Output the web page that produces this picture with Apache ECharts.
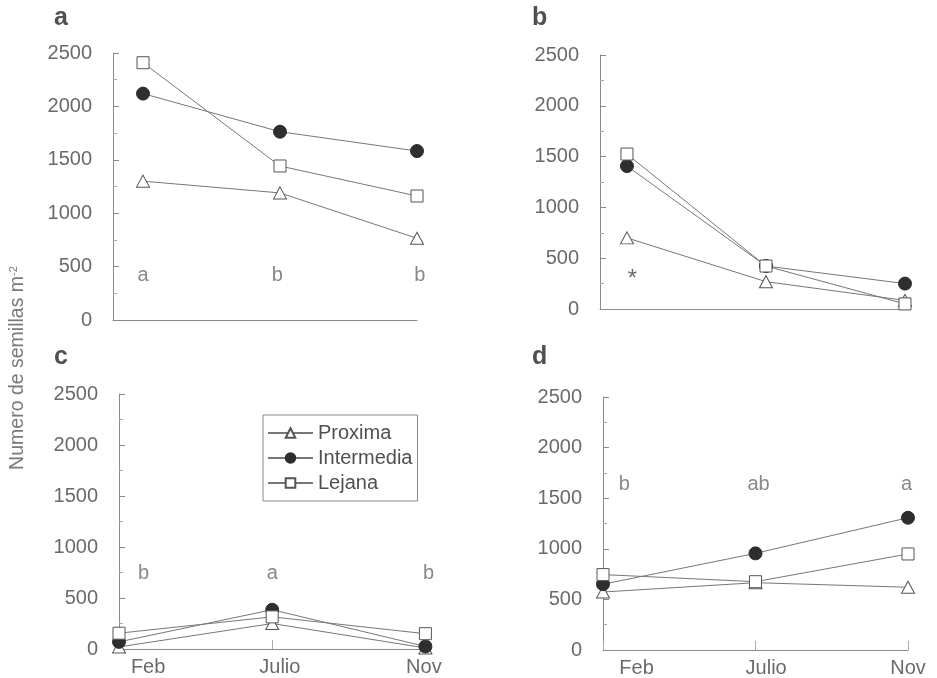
<!DOCTYPE html>
<html>
<head>
<meta charset="utf-8">
<script src="https://cdn.jsdelivr.net/npm/echarts@6/dist/echarts.min.js"></script>
<style>
  html, body { margin: 0; padding: 0; background: #fff; }
  #main { width: 937px; height: 678px; }
</style>
</head>
<body>
<div id="main"></div>
<script>
// data (seeds per m2)
var months = ['Feb', 'Julio', 'Nov'];
var seriesNames = ['Proxima', 'Intermedia', 'Lejana'];
var yTicks = [0, 500, 1000, 1500, 2000, 2500];

var proximaA = [1300, 1190, 765];
var intermediaA = [2120, 1763, 1582];
var lejanaA = [2409, 1442, 1161];

var proximaB = [700, 269, 85];
var intermediaB = [1407, 423, 250];
var lejanaB = [1525, 423, 50];

var proximaC = [20, 250, 10];
var intermediaC = [70, 385, 25];
var lejanaC = [155, 315, 150];

var proximaD = [573, 665, 620];
var intermediaD = [650, 955, 1307];
var lejanaD = [745, 675, 949];

// significance letters, with their x (month index) and y (value) places
var lettersA = ['a', 'b', 'b'];
var lettersB = ['*'];
var lettersC = ['b', 'a', 'b'];
var lettersD = ['b', 'ab', 'a'];
var letterXA = [0, 0.98, 2.02];
var letterXB = [0.04];
var letterXC = [0.16, 1.0, 2.02];
var letterXD = [0.14, 1.02, 1.99];
var letterYA = 420;
var letterYB = 290;
var letterYC = 745;
var letterYD = 1640;

var myChart = echarts.init(document.getElementById('main'));

var FONT = '"Liberation Sans", Arial, Helvetica, sans-serif';
var labelGray = '#6a6a6a';
var lineGray = '#777';
var axisGray = '#8a8a8a';

var grids = [
  { left: 113, top: 53, width: 304, height: 267 },
  { left: 600, top: 55, width: 310, height: 254 },
  { left: 119, top: 394, width: 311, height: 255 },
  { left: 603, top: 397, width: 305, height: 253 }
];

var xRanges = [
  { min: -0.219, max: 2 },
  { min: -0.194, max: 2.036 },
  { min: 0, max: 2.03 },
  { min: 0, max: 2.0 }
];
var monthLabelPos = [null, null, [0.19, 1.05, 1.99], [0.22, 1.07, 2.0]];

function makeX(i) {
  var showLabels = monthLabelPos[i] !== null;
  return {
    type: 'value',
    gridIndex: i,
    min: xRanges[i].min,
    max: xRanges[i].max,
    interval: 1,
    splitLine: { show: false },
    axisLine: { show: true, onZero: false, lineStyle: { color: axisGray, width: 1 } },
    axisTick: {
      show: showLabels,
      inside: true,
      length: 9,
      lineStyle: { color: '#aaa' },
      customValues: [0, 1, 2]
    },
    axisLabel: {
      show: showLabels,
      customValues: showLabels ? monthLabelPos[i] : undefined,
      margin: 8,
      fontSize: 20,
      fontFamily: FONT,
      color: labelGray,
      formatter: function (v) { return months[Math.round(v)]; }
    }
  };
}

function makeY(i) {
  return {
    type: 'value',
    gridIndex: i,
    min: 0,
    max: 2500,
    interval: 500,
    splitLine: { show: false },
    axisLine: { show: true, onZero: false, lineStyle: { color: axisGray, width: 1 } },
    axisTick: { show: true, inside: true, length: 6, lineStyle: { color: axisGray } },
    minorTick: { show: true, splitNumber: 2, length: 4, lineStyle: { color: '#aaa' } },
    axisLabel: {
      margin: 21,
      fontSize: 20,
      fontFamily: FONT,
      color: labelGray,
      formatter: function (v) { return yTicks.indexOf(v) >= 0 ? String(v) : ''; }
    }
  };
}

var symbolStyles = [
  { symbol: 'triangle', symbolSize: [13, 12], itemStyle: { color: '#fff', borderColor: '#555', borderWidth: 1 } },
  { symbol: 'circle', symbolSize: 13, itemStyle: { color: '#2e2e2e', borderColor: '#2e2e2e', borderWidth: 1 } },
  { symbol: 'rect', symbolSize: 12, itemStyle: { color: '#fff', borderColor: '#555', borderWidth: 1 } }
];

function toPoints(vals) {
  return vals.map(function (v, k) { return [k, v]; });
}

function lineSeries(name, vals, i, s) {
  var st = symbolStyles[s];
  return {
    name: name,
    type: 'line',
    xAxisIndex: i,
    yAxisIndex: i,
    data: toPoints(vals),
    symbol: st.symbol,
    symbolSize: st.symbolSize,
    showAllSymbol: true,
    clip: false,
    itemStyle: st.itemStyle,
    lineStyle: { color: lineGray, width: 1 },
    emphasis: { disabled: true },
    z: 3 + s
  };
}

function letterSeries(letters, xs, y, i, size, color) {
  return {
    type: 'scatter',
    xAxisIndex: i,
    yAxisIndex: i,
    symbol: 'circle',
    symbolSize: 1,
    itemStyle: { color: 'rgba(0,0,0,0)' },
    silent: true,
    clip: false,
    data: letters.map(function (t, k) { return { value: [xs[k], y], name: t }; }),
    label: {
      show: true,
      position: 'inside',
      formatter: function (p) { return p.name; },
      fontSize: size || 20,
      fontFamily: FONT,
      color: color || labelGray
    }
  };
}

var panels = [
  [proximaA, intermediaA, lejanaA],
  [proximaB, intermediaB, lejanaB],
  [proximaC, intermediaC, lejanaC],
  [proximaD, intermediaD, lejanaD]
];

var series = [];
panels.forEach(function (p, i) {
  p.forEach(function (vals, s) {
    series.push(lineSeries(seriesNames[s], vals, i, s));
  });
});
series.push(letterSeries(lettersA, letterXA, letterYA, 0));
series.push(letterSeries(lettersB, letterXB, letterYB, 1, 24, '#444'));
series.push(letterSeries(lettersC, letterXC, letterYC, 2));
series.push(letterSeries(lettersD, letterXD, letterYD, 3));

var titleStyle = { fontSize: 25, fontWeight: 'bold', fontFamily: FONT, fill: '#505050' };

option = {
  backgroundColor: '#fff',
  animation: false,
  grid: grids,
  xAxis: [0, 1, 2, 3].map(makeX),
  yAxis: [0, 1, 2, 3].map(makeY),
  legend: {
    data: seriesNames,
    orient: 'vertical',
    left: 263,
    top: 415,
    padding: [8, 5, 8, 4],
    itemGap: 5,
    itemWidth: 45,
    itemHeight: 12,
    borderColor: '#888',
    borderWidth: 1,
    selectedMode: false,
    textStyle: { fontSize: 20, fontFamily: FONT, color: '#505050' }
  },
  graphic: [
    { type: 'text', left: 54, top: 6, style: Object.assign({ text: 'a' }, titleStyle) },
    { type: 'text', left: 532, top: 6, style: Object.assign({ text: 'b' }, titleStyle) },
    { type: 'text', left: 54, top: 345, style: Object.assign({ text: 'c' }, titleStyle) },
    { type: 'text', left: 532, top: 345, style: Object.assign({ text: 'd' }, titleStyle) },
    {
      type: 'text',
      x: 18,
      y: 368,
      rotation: Math.PI / 2,
      style: {
        text: '{n|Numero de semillas m}{s|-2}',
        rich: {
          n: { fontSize: 19.5, fontFamily: FONT, fill: '#7a7a7a', color: '#7a7a7a' },
          s: { fontSize: 11, fontFamily: FONT, fill: '#7a7a7a', color: '#7a7a7a', verticalAlign: 'top', padding: [0, 0, 8, 0] }
        },
        align: 'center',
        verticalAlign: 'middle'
      }
    }
  ],
  series: series
};

myChart.setOption(option);
</script>
</body>
</html>
